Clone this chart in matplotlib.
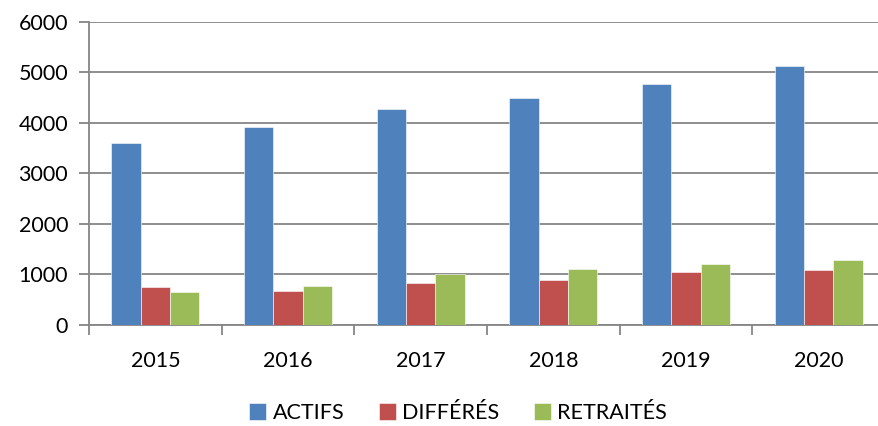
import matplotlib
matplotlib.use("Agg")
import matplotlib.pyplot as plt
import numpy as np

years = ["2015", "2016", "2017", "2018", "2019", "2020"]
actifs = [3595, 3915, 4275, 4485, 4780, 5120]
differes = [745, 660, 820, 885, 1035, 1080]
retraites = [640, 765, 1005, 1105, 1195, 1280]
series_names = ["ACTIFS", "DIFFÉRÉS", "RETRAITÉS"]
colors = ["#4F81BD", "#C0504D", "#9BBB59"]
yticks = [0, 1000, 2000, 3000, 4000, 5000, 6000]

plt.rcParams['font.family'] = ['Lato', 'DejaVu Sans']

W, H = 879, 426
fig = plt.figure(figsize=(W / 100, H / 100), dpi=100)
left, right, bottom, top = 89, 885, 324.7, 22
ax = fig.add_axes([left / W, 1 - bottom / H, (right - left) / W, (bottom - top) / H])

n = len(years)
x = np.arange(n)
bw = 0.2208
data = [actifs, differes, retraites]
for i, (vals, c, name) in enumerate(zip(data, colors, series_names)):
    ax.bar(x + (i - 1) * bw, vals, width=bw, color=c, label=name,
           edgecolor="#ffffff", linewidth=0.4, zorder=3)

grid_c = "#868686"
fs = 15.5
ax.set_xlim(-0.5, n - 0.5)
ax.set_ylim(0, 6000)
ax.set_yticks(yticks)
ax.set_yticklabels([str(v) for v in yticks], fontsize=fs)
ax.yaxis.grid(True, color=grid_c, linewidth=1.3, zorder=0)
ax.set_axisbelow(True)

ax.set_xticks(x)
ax.set_xticklabels(years, fontsize=fs)
ax.set_xticks(np.arange(n + 1) - 0.5, minor=True)
ax.tick_params(axis='x', which='major', length=0, pad=19)
ax.tick_params(axis='x', which='minor', length=7, color=grid_c, width=1.3, direction='out')
ax.tick_params(axis='y', length=7, color=grid_c, width=1.3, pad=8)

for s in ["top", "right"]:
    ax.spines[s].set_visible(False)
for s in ["left", "bottom"]:
    ax.spines[s].set_color(grid_c)
    ax.spines[s].set_linewidth(1.3)

leg = fig.legend(loc="center", bbox_to_anchor=(458 / W, 1 - 413 / H), ncol=3,
                 frameon=False, fontsize=fs, handlelength=0.8, handleheight=0.8,
                 handletextpad=0.3, columnspacing=1.6)

fig.savefig("out.png", dpi=100)
